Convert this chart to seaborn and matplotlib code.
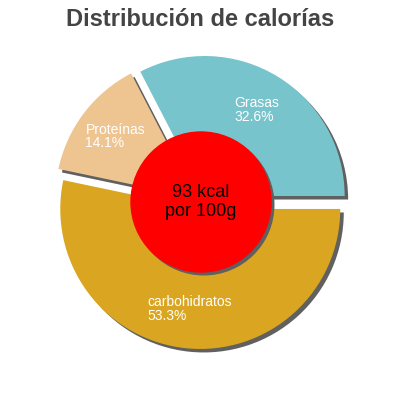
import numpy as np
import seaborn as sns
import matplotlib
matplotlib.use("Agg")
import matplotlib.pyplot as plt

# data
categories = ["Grasas", "Proteínas", "carbohidratos"]
percentages = [32.6, 14.1, 53.3]
slice_colors = ["#78C4CC", "#EEC591", "#DAA520"]
center_text = "93 kcal\npor 100g"
title = "Distribución de calorías"

sns.set_theme(style="white")
plt.rcParams["font.family"] = ["Liberation Sans", "DejaVu Sans"]

fig = plt.figure(figsize=(4, 4), dpi=100)
ax = fig.add_axes([0, 0, 1, 1])

explode = [0.05] * len(percentages)
labels = [f"{c}\n{p:.1f}%" for c, p in zip(categories, percentages)]

# shadow pie, shifted down-right
ax.pie(percentages, explode=explode, colors=["#606060"] * 3, startangle=0,
       center=(0.025, -0.025), radius=1, wedgeprops=dict(linewidth=0))

# main pie
wedges, texts = ax.pie(percentages, explode=explode, colors=slice_colors,
                       labels=labels, labeldistance=0.72, startangle=0,
                       radius=1, wedgeprops=dict(linewidth=0),
                       textprops=dict(color="white", fontsize=10))
for t in texts:
    t.set_ha("center")
    t.set_va("center")
    t.set_multialignment("left")
    t.set_linespacing(0.95)

# red centre with its shadow
ax.add_patch(plt.Circle((0.02, -0.02), 0.5, color="#606060", zorder=3))
ax.add_patch(plt.Circle((0, 0), 0.5, color="#FF0000", zorder=4))
ax.text(0, 0, center_text, ha="center", va="center", fontsize=13,
        color="black", zorder=5)

ax.set_xlim(-201 / 140, 199 / 140)
ax.set_ylim(-198 / 140, 202 / 140)
ax.set_aspect("equal")
ax.axis("off")

fig.text(0.5, 1 - 19 / 400, title, ha="center", va="center",
         fontsize=17, fontweight="bold", color="#444444")

fig.savefig("out.png", dpi=100)
